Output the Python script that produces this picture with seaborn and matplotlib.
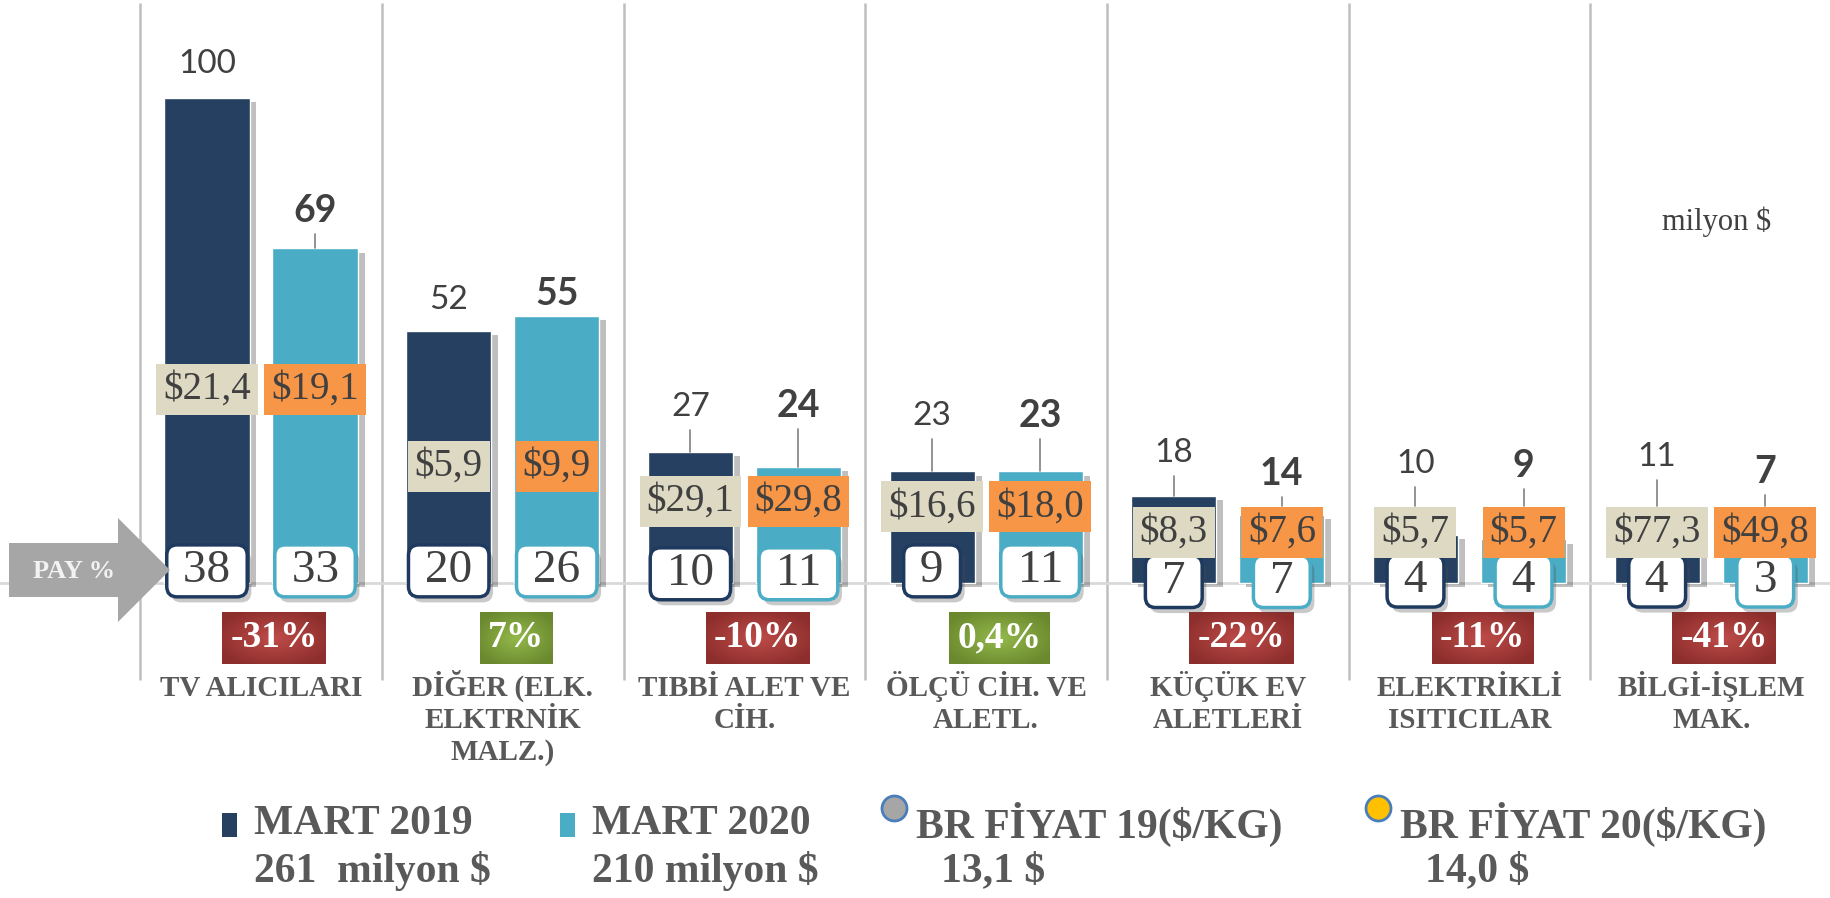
import numpy as np
import pandas as pd
import matplotlib
matplotlib.use("Agg")
import matplotlib.pyplot as plt
import matplotlib.patheffects as pe
from matplotlib.patches import Polygon, Rectangle
from matplotlib.lines import Line2D
from matplotlib.colors import LinearSegmentedColormap
import seaborn as sns


# ==========================================
# DATA
# ==========================================

categories = ["TV ALICILARI", "DİĞER (ELK.\nELKTRNİK\nMALZ.)", "TIBBİ ALET VE\nCİH.",
              "ÖLÇÜ CİH. VE\nALETL.", "KÜÇÜK EV\nALETLERİ", "ELEKTRİKLİ\nISITICILAR",
              "BİLGİ-İŞLEM\nMAK."]

mart_2019 = [100, 52, 27, 23, 18, 10, 11]
mart_2020 = [69, 55, 24, 23, 14, 9, 7]

price_2019 = [21.4, 5.9, 29.1, 16.6, 8.3, 5.7, 77.3]
price_2020 = [19.1, 9.9, 29.8, 18.0, 7.6, 5.7, 49.8]

share_2019 = [38, 20, 10, 9, 7, 4, 4]
share_2020 = [33, 26, 11, 11, 7, 4, 3]

change_pct = [-31, 7, -10, 0.4, -22, -11, -41]

total_2019 = 261
total_2020 = 210
avg_price_2019 = 13.1
avg_price_2020 = 14.0


# ==========================================
# LABEL LAYOUT (chart units)
# ==========================================

value_label_y19 = [107.0, 58.4, 36.3, 34.5, 26.8, 24.6, 26.0]
value_label_y20 = [76.7, 59.6, 36.5, 34.5, 22.5, 24.1, 22.9]
leader19 = [False, False, True, True, True, True, True]
leader20 = [True, False, True, True, True, True, True]
price_label_y = [40.0, 24.1, 16.8, 15.7, 10.5, 10.5, 10.5]
share_label_y = [2.5, 2.5, 1.9, 2.5, 0.3, 0.4, 0.4]
cat_baseline_y = -23.3
cat_line_step = 6.6


# ==========================================
# COLORS / FONTS
# ==========================================

DARK = "#254061"
LIGHT = "#4BACC6"
BEIGE = "#DDD9C3"
ORANGE = "#F79646"
TXT = "#404040"
CAT = "#595959"
SERIF = "Liberation Serif"
SANS = "Lato"

RED_CMAP = LinearSegmentedColormap.from_list("red", ["#BD4B48", "#8C2E2C"])
GREEN_CMAP = LinearSegmentedColormap.from_list("green", ["#93B84A", "#6A882E"])

W, H = 1830, 898


def fx(px):
    return px / W


def fy(py):
    return 1 - py / H


def comma(v, nd=1):
    return f"{v:.{nd}f}".replace(".", ",")


sns.set_theme(style="white")

fig = plt.figure(figsize=(W / 100, H / 100), dpi=100)
ax = fig.add_axes([0, 0, 1, 1])


# ==========================================
# BARS
# ==========================================

df = pd.DataFrame({
    "kategori": categories * 2,
    "yil": ["MART 2019"] * len(categories) + ["MART 2020"] * len(categories),
    "deger": mart_2019 + mart_2020,
})

sns.barplot(
    data=df, x="kategori", y="deger", hue="yil",
    palette=[DARK, LIGHT], saturation=1,
    width=0.894, gap=0.2125, errorbar=None,
    legend=False, ax=ax, zorder=3,
)

shadow = [pe.SimplePatchShadow(offset=(5, -3), shadow_rgbFace="black", alpha=0.25), pe.Normal()]
for bar in ax.patches:
    bar.set_path_effects(shadow)

bars19 = list(ax.containers[0])
bars20 = list(ax.containers[1])

XLIM = (-1.0799, 6.4915)
YLIM = (-64.95, 120.21)
ax.set_xlim(*XLIM)
ax.set_ylim(*YLIM)
ax.axis("off")

# separators and baseline
ax.vlines(np.arange(len(categories)) - 0.5, -20, 119.6, colors="#BFBFBF", lw=1.8, zorder=0)
ax.axhline(0, color="#D9D9D9", lw=2, zorder=1)


# ==========================================
# ANNOTATIONS
# ==========================================

change_texts = []

for i in range(len(categories)):
    for bars, vals, prices, shares, lab_y, lead, bold, face, edge in [
        (bars19, mart_2019, price_2019, share_2019, value_label_y19, leader19, False, BEIGE, "#1F3A5F"),
        (bars20, mart_2020, price_2020, share_2020, value_label_y20, leader20, True, ORANGE, LIGHT),
    ]:
        b = bars[i]
        x = b.get_x() + b.get_width() / 2

        # value label
        ax.text(x, lab_y[i], str(vals[i]), ha="center", va="center",
                fontsize=27 if bold else 24, family=SANS,
                fontweight="bold" if bold else "normal", color=TXT, zorder=8)
        if lead[i]:
            target = max(vals[i], price_label_y[i] + 5.35)
            ax.plot([x, x], [lab_y[i] - 4.8, target], color="#808080", lw=1.2, zorder=8)

        # price label
        ax.text(x, price_label_y[i], "$" + comma(prices[i]), ha="center", va="center",
                fontsize=28, family=SERIF, color=TXT, zorder=7,
                bbox=dict(boxstyle="square,pad=0.18", fc=face, ec="none"))

        # share box
        t = ax.text(x, share_label_y[i], f" {shares[i]} ", ha="center", va="center",
                    fontsize=34, family=SERIF, color=TXT, zorder=6,
                    bbox=dict(boxstyle="round,pad=0.1,rounding_size=0.22", fc="white",
                              ec=edge, lw=2.5))
        t.get_bbox_patch().set_path_effects(
            [pe.SimplePatchShadow(offset=(3, -4), alpha=0.3), pe.Normal()])

    # change box
    c = change_pct[i]
    txt = (f"{c:.0f}" if float(c).is_integer() else comma(c)) + "%"
    ct = ax.text(i + 0.055, -11.3, txt, ha="center", va="center", fontsize=27,
                 family=SERIF, fontweight="bold", color="white", zorder=6,
                 bbox=dict(boxstyle="square,pad=0.22", fc="none", ec="none"))
    change_texts.append((ct, c))

    # category label, one text per line
    for k, line in enumerate(categories[i].split("\n")):
        ax.text(i, cat_baseline_y - k * cat_line_step, line, ha="center", va="baseline",
                fontsize=21, family=SERIF, fontweight="bold", color=CAT, zorder=6)


# gradient fill behind change labels
fig.canvas.draw()
inv = ax.transData.inverted()
yy, xx = np.mgrid[-1:1:60j, -1:1:120j]
radial = np.clip(np.sqrt(xx ** 2 + yy ** 2) / 1.2, 0, 1)
for ct, c in change_texts:
    ext = ct.get_bbox_patch().get_window_extent()
    (x0, y0), (x1, y1) = inv.transform([(ext.x0, ext.y0), (ext.x1, ext.y1)])
    ax.imshow(radial, cmap=RED_CMAP if c < 0 else GREEN_CMAP, extent=(x0, x1, y0, y1),
              aspect="auto", interpolation="bilinear", zorder=5.5)
ax.set_xlim(*XLIM)
ax.set_ylim(*YLIM)


# unit note
fig.text(fx(1717), fy(222), "milyon $", ha="center", va="center", fontsize=22,
         family=SERIF, color=TXT)

# PAY % arrow
arrow_px = [(9, 543), (118, 543), (118, 518), (170, 570), (118, 622), (118, 597), (9, 597)]
fig.add_artist(Polygon([(fx(a), fy(b)) for a, b in arrow_px], closed=True,
                       fc="#A6A6A6", ec="none", transform=fig.transFigure, zorder=2))
fig.text(fx(74), fy(571), "PAY %", ha="center", va="center", fontsize=19,
         family=SERIF, fontweight="bold", color="#F2F2F2", zorder=3)


# ==========================================
# LEGEND
# ==========================================

legend_font = dict(fontsize=30, family=SERIF, fontweight="bold", color=CAT, va="center", ha="left")

for left, color, lines in [
    (222, DARK, ("MART 2019", f"{total_2019}  milyon $")),
    (560, LIGHT, ("MART 2020", f"{total_2020} milyon $")),
]:
    fig.add_artist(Rectangle((fx(left), fy(837)), 15 / W, 24 / H, fc=color, ec="none",
                             transform=fig.transFigure))
    fig.text(fx(left + 32), fy(824), lines[0], **legend_font)
    fig.text(fx(left + 32), fy(871), lines[1], **legend_font)

for cx, face, lines in [
    (894, "#A6A6A6", ("BR FİYAT 19($/KG)", comma(avg_price_2019) + " $")),
    (1378, "#FFC000", ("BR FİYAT 20($/KG)", comma(avg_price_2020) + " $")),
]:
    fig.add_artist(Line2D([fx(cx)], [fy(808)], marker="o", markersize=18, mfc=face,
                          mec="#4A7EBB", mew=2, transform=fig.transFigure))
    fig.text(fx(cx + 22), fy(824), lines[0], **legend_font)
    fig.text(fx(cx + 47), fy(871), lines[1], **legend_font)


fig.savefig("out.png", dpi=100)
